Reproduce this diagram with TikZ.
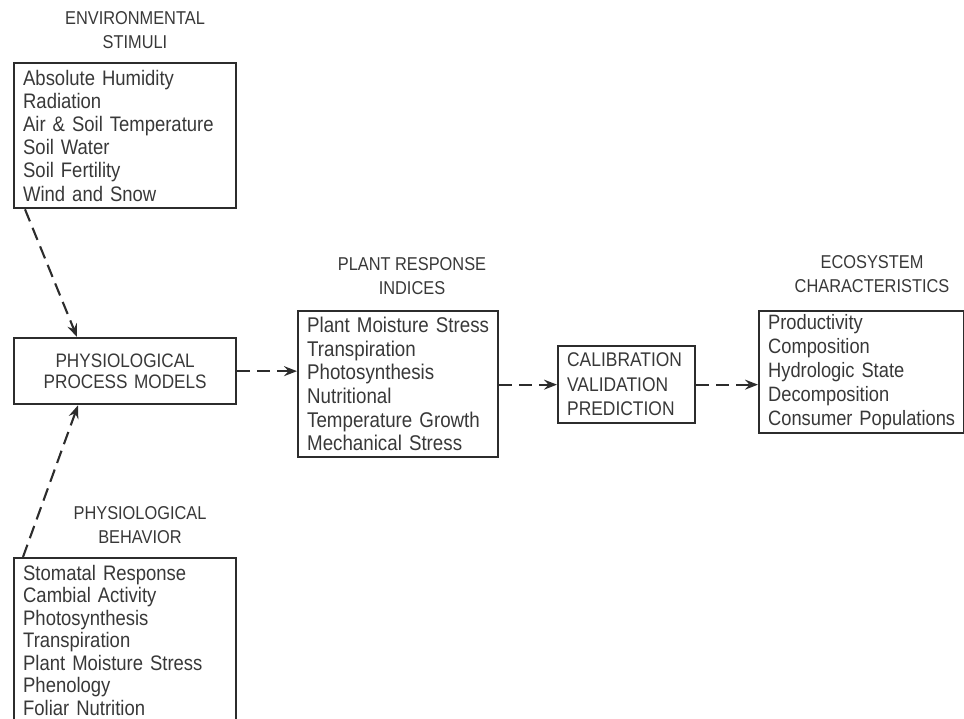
\documentclass[tikz,border=0pt]{standalone}
\usepackage{fontspec}
\setmainfont{Liberation Sans}
% narrow, tall lettering for all labels
\newfontfamily\lettering[FakeStretch=0.88]{Liberation Sans}
\usetikzlibrary{arrows.meta,calc}
\definecolor{ink}{HTML}{2C2C2C}
\definecolor{txt}{HTML}{383838}
\begin{document}
\begin{tikzpicture}[x=1pt,y=-1pt,
  panel/.style={draw=ink, line width=2.3pt, anchor=north west, align=left,
    inner xsep=9pt, inner ysep=0pt, text=txt,
    font=\lettering\fontsize{21}{23.2}\selectfont},
  heading/.style={align=center, text=txt, inner sep=0pt,
    font=\lettering\fontsize{18.6}{23.5}\selectfont},
  flow/.style={draw=ink, line width=2.1pt, dash pattern=on 13pt off 7pt,
    -{Stealth[length=13pt,width=10pt,inset=4.5pt]}}]
\useasboundingbox (0,0) rectangle (964,719);
\clip (0,0) rectangle (964,719);

% headings above the boxes
\node[heading] (envT) at (135,30) {ENVIRONMENTAL\\STIMULI};
\node[heading] (priT) at (412,276) {PLANT RESPONSE\\INDICES};
\node[heading] (ecoT) at (872,274) {ECOSYSTEM\\CHARACTERISTICS};
\node[heading] (behT) at (140,525) {PHYSIOLOGICAL\\BEHAVIOR};

% boxes
\node[panel, text width=204pt, minimum height=145pt] (env) at (13,62)
  {Absolute Humidity\\Radiation\\Air \& Soil Temperature\\Soil Water\\Soil Fertility\\Wind and Snow};
\node[panel, align=center, text width=204pt, minimum height=66pt,
  font=\lettering\fontsize{19.5}{21}\selectfont] (ppm) at (13,337)
  {PHYSIOLOGICAL\\PROCESS MODELS};
\node[panel, text width=182pt, minimum height=146pt,
  font=\lettering\fontsize{21.3}{23.6}\selectfont] (pri) at (297,310)
  {Plant Moisture Stress\\Transpiration\\Photosynthesis\\Nutritional\\Temperature Growth\\Mechanical Stress};
\node[panel, text width=119pt, minimum height=77pt,
  font=\lettering\fontsize{19.8}{24.5}\selectfont] (cal) at (557,345)
  {CALIBRATION\\VALIDATION\\PREDICTION};
\node[panel, text width=187pt, minimum height=122pt,
  font=\lettering\fontsize{20.8}{24}\selectfont] (eco) at (758,310)
  {Productivity\\Composition\\Hydrologic State\\Decomposition\\\mbox{Consumer Populations}};
\node[panel, text width=204pt, minimum height=164pt,
  font=\lettering\fontsize{21}{22.5}\selectfont] (beh) at (13,557)
  {Stomatal Response\\Cambial Activity\\Photosynthesis\\Transpiration\\Plant Moisture Stress\\Phenology\\Foliar Nutrition};

% dashed flow arrows
\draw[flow] ($(env.south west)+(12,0)$) -- ($(ppm.north west)+(64,0)$);
\draw[flow] ($(beh.north west)+(10,0)$) -- ($(ppm.south west)+(65,0)$);
\draw[flow] (ppm.east) -- (ppm.east -| pri.west);
\draw[flow] (cal.west -| pri.east) -- (cal.west);
\draw[flow] (cal.east) -- (cal.east -| eco.west);
\end{tikzpicture}
\end{document}
